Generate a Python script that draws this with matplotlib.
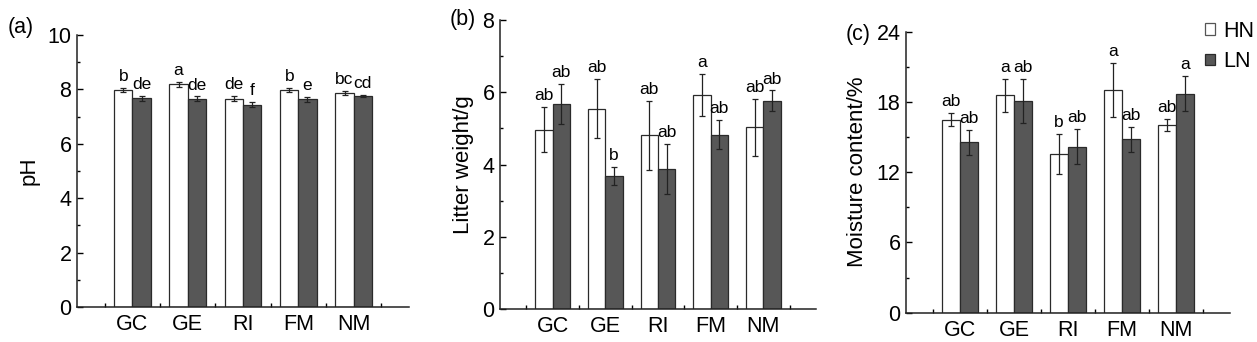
import numpy as np
import matplotlib
matplotlib.use('Agg')
import matplotlib.pyplot as plt
from matplotlib.patches import Patch
from matplotlib.ticker import MultipleLocator, FixedLocator

plt.rcParams['font.family'] = ['Liberation Sans', 'DejaVu Sans']

sites = ['GC', 'GE', 'RI', 'FM', 'NM']

# (a) soil pH
ph_hn = [7.97, 8.18, 7.66, 7.97, 7.86]
ph_hn_err = [0.08, 0.09, 0.09, 0.08, 0.08]
ph_ln = [7.67, 7.65, 7.44, 7.63, 7.76]
ph_ln_err = [0.08, 0.09, 0.09, 0.08, 0.03]
ph_hn_sig = ['b', 'a', 'de', 'b', 'bc']
ph_ln_sig = ['de', 'de', 'f', 'e', 'cd']

# (b) litter weight
lw_hn = [4.96, 5.55, 4.81, 5.93, 5.03]
lw_hn_err = [0.62, 0.82, 0.95, 0.58, 0.79]
lw_ln = [5.68, 3.68, 3.87, 4.83, 5.77]
lw_ln_err = [0.55, 0.26, 0.69, 0.41, 0.28]
lw_hn_sig = ['ab', 'ab', 'ab', 'a', 'ab']
lw_ln_sig = ['ab', 'b', 'ab', 'ab', 'ab']

# (c) moisture content
mc_hn = [16.5, 18.56, 13.58, 19.0, 16.05]
mc_hn_err = [0.55, 1.43, 1.72, 2.3, 0.5]
mc_ln = [14.55, 18.1, 14.18, 14.8, 18.7]
mc_ln_err = [1.04, 1.87, 1.5, 1.1, 1.5]
mc_hn_sig = ['ab', 'a', 'b', 'a', 'ab']
mc_ln_sig = ['ab', 'ab', 'ab', 'ab', 'a']

dark = '#575757'
edge = '#2a2a2a'
bw = 0.33

fig = plt.figure(figsize=(12.57, 3.42), dpi=100)
ax_a = fig.add_axes([0.0613, 0.1023, 0.2641, 0.7954])
ax_b = fig.add_axes([0.3978, 0.0965, 0.2514, 0.8450])
ax_c = fig.add_axes([0.7208, 0.0857, 0.2577, 0.8216])


def panel(ax, hn, hn_err, ln, ln_err, hn_sig, ln_sig, ymax, step, ylabel):
    x = np.arange(1, len(sites) + 1)
    ekw = dict(elinewidth=0.9, capthick=0.9, ecolor='#222222')
    ax.bar(x - bw / 2, hn, bw, yerr=hn_err, color='white', edgecolor=edge,
           linewidth=0.9, capsize=2.5, error_kw=ekw)
    ax.bar(x + bw / 2, ln, bw, yerr=ln_err, color=dark, edgecolor=edge,
           linewidth=0.9, capsize=2.5, error_kw=ekw)
    for i in range(len(sites)):
        ax.annotate(hn_sig[i], (x[i] - bw / 2, hn[i] + hn_err[i]),
                    xytext=(0, 5), textcoords='offset points',
                    ha='center', va='baseline', fontsize=12.5)
        ax.annotate(ln_sig[i], (x[i] + bw / 2, ln[i] + ln_err[i]),
                    xytext=(0, 5), textcoords='offset points',
                    ha='center', va='baseline', fontsize=12.5)
    ax.set_xlim(0, 6)
    ax.set_ylim(0, ymax)
    ax.set_xticks(x)
    ax.set_xticklabels(sites)
    ax.xaxis.set_minor_locator(FixedLocator(np.arange(0.5, 6, 1.0)))
    ax.yaxis.set_major_locator(MultipleLocator(step))
    ax.yaxis.set_minor_locator(MultipleLocator(step / 2))
    ax.tick_params(axis='x', which='major', length=0, pad=5, labelsize=15.5)
    ax.tick_params(axis='x', which='minor', direction='in', length=3, width=1)
    ax.tick_params(axis='y', which='major', direction='in', length=4, width=1,
                   pad=4, labelsize=15.5)
    ax.tick_params(axis='y', which='minor', direction='in', length=2.5, width=1)
    for s in ['top', 'right']:
        ax.spines[s].set_visible(False)
    for s in ['left', 'bottom']:
        ax.spines[s].set_linewidth(1.1)
        ax.spines[s].set_color('#222222')
    ax.set_ylabel(ylabel, fontsize=16, labelpad=6)


panel(ax_a, ph_hn, ph_hn_err, ph_ln, ph_ln_err, ph_hn_sig, ph_ln_sig,
      10, 2, 'pH')
panel(ax_b, lw_hn, lw_hn_err, lw_ln, lw_ln_err, lw_hn_sig, lw_ln_sig,
      8, 2, 'Litter weight/g')
panel(ax_c, mc_hn, mc_hn_err, mc_ln, mc_ln_err, mc_hn_sig, mc_ln_sig,
      24, 6, 'Moisture content/%')

# panel tags
fig.text(0.006, 0.921, '(a)', fontsize=15.5, ha='left', va='center')
fig.text(0.358, 0.944, '(b)', fontsize=15.5, ha='left', va='center')
fig.text(0.673, 0.900, '(c)', fontsize=15.5, ha='left', va='center')

handles = [Patch(facecolor='white', edgecolor='#555555', linewidth=0.9, label='HN'),
           Patch(facecolor=dark, edgecolor=edge, linewidth=0.9, label='LN')]
fig.legend(handles=handles, loc='upper right', bbox_to_anchor=(0.998, 0.94),
           frameon=False, fontsize=15.5, handlelength=0.46, handleheight=0.46,
           handletextpad=0.4, labelspacing=0.45, borderpad=0, borderaxespad=0)

fig.savefig('out.png', dpi=100)
